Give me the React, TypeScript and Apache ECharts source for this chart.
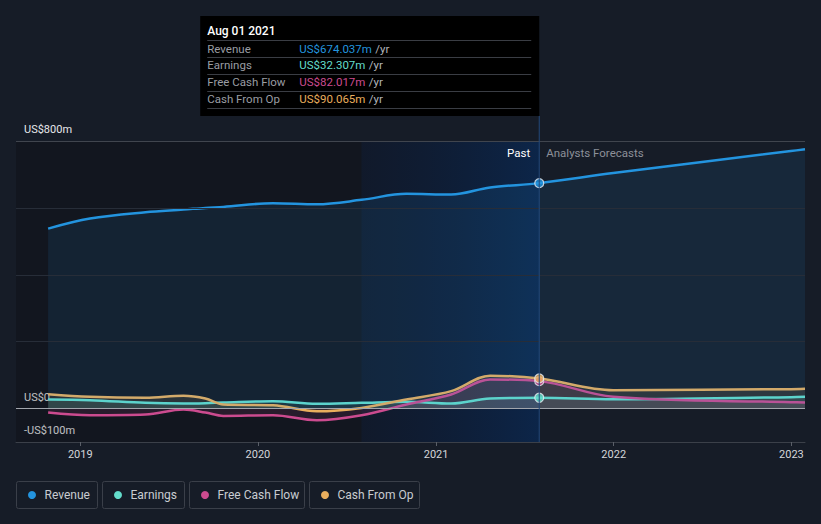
import React, { useEffect, useRef } from 'react';
import * as echarts from 'echarts';

// ---- data ----
const pastDates = ['2018-10-27', '2019-01-21', '2019-05-15', '2019-08-01', '2019-09-15', '2019-10-22', '2020-02-01', '2020-05-01', '2020-08-01', '2020-11-01', '2021-02-01', '2021-04-22', '2021-08-01'];
const forecastDates = ['2021-12-31', '2022-12-31', '2023-01-29'];

const revenuePast = [538, 568, 587, 595, 600, 603, 614, 611, 624, 642, 640, 661, 674.037];
const revenueForecast = [704, 770, 775];
const earningsPast = [27, 25, 17, 15, 16, 18, 22, 14, 17, 20, 15, 30, 32.307];
const earningsForecast = [28, 34, 35];
const fcfPast = [-12, -20, -18, -3, -12, -22, -20, -35, -20, 12, 42, 87, 82.017];
const fcfForecast = [35, 19, 18];
const cfoPast = [43, 35, 32, 38, 30, 12, 10, -8, 2, 27, 52, 98, 90.065];
const cfoForecast = [55, 58, 59];

const seriesNames = ['Revenue', 'Earnings', 'Free Cash Flow', 'Cash From Op'];
const seriesColors = ['#2394df', '#63dccb', '#cc4b8f', '#e9ae5d'];

const yLabels: Record<number, string> = { 800: 'US$800m', 0: 'US$0', [-100]: '-US$100m' };
const gridValues = [800, 600, 400, 200];

const xMin = '2018-08-22';
const xMax = '2023-01-29';
const hoverDate = '2021-08-01';
const pastStart = '2020-08-01';
const hoverLabel = 'Aug 01 2021';

const FONT = 'Roboto';

function build(past: number[], fc: number[]) {
  return [
    ...pastDates.map((d, i) => [d, past[i]]),
    ...forecastDates.map((d, i) => [d, fc[i]]),
  ];
}

export default function App() {
  const ref = useRef<HTMLDivElement>(null);

  useEffect(() => {
    if (!ref.current) return;
    const chart = echarts.init(ref.current, null, { renderer: 'svg' });

    const all = [
      [revenuePast, revenueForecast],
      [earningsPast, earningsForecast],
      [fcfPast, fcfForecast],
      [cfoPast, cfoForecast],
    ];

    const lineSeries: any[] = all.map(([p, f], i) => ({
      type: 'line',
      name: seriesNames[i],
      data: build(p, f),
      smooth: 0.35,
      showSymbol: false,
      symbol: 'none',
      lineStyle: { color: seriesColors[i], width: 2.5 },
      itemStyle: { color: seriesColors[i] },
      areaStyle: { color: seriesColors[i], opacity: i === 0 ? 0.11 : 0.12 },
      z: i === 0 ? 4 : 3,
      silent: true,
    }));

    const dotSeries: any[] = all.map(([p], i) => ({
      type: 'scatter',
      name: seriesNames[i] + ' point',
      data: [[hoverDate, p[p.length - 1]]],
      symbol: 'circle',
      symbolSize: 9,
      itemStyle: { color: seriesColors[i], borderColor: '#e8ecf2', borderWidth: 1.2 },
      z: 6,
      silent: true,
    }));

    const baseSeries: any = {
      type: 'line',
      name: 'base',
      data: [],
      z: 1,
      silent: true,
      markArea: {
        silent: true,
        data: [
          [{ xAxis: xMin, itemStyle: { color: 'rgba(0,0,0,0.18)' } }, { xAxis: pastStart }],
          [
            {
              xAxis: pastStart,
              itemStyle: {
                color: new echarts.graphic.LinearGradient(0, 0, 1, 0, [
                  { offset: 0, color: 'rgba(0,18,54,0.25)' },
                  { offset: 1, color: 'rgba(2,48,110,0.48)' },
                ]),
              },
            },
            { xAxis: hoverDate },
          ],
        ],
      },
      markLine: {
        silent: true,
        symbol: 'none',
        label: { show: false },
        data: [
          ...gridValues.map((v) => ({
            yAxis: v,
            lineStyle: { color: v === 800 ? '#40454e' : '#272d38', width: 1, type: 'solid' },
          })),
        ],
      },
    };

    const zeroSeries: any = {
      type: 'line',
      name: 'zero',
      data: [],
      z: 5,
      silent: true,
      markLine: {
        silent: true,
        symbol: 'none',
        label: { show: false },
        data: [{ yAxis: 0, lineStyle: { color: '#a2a6ad', width: 1.2, type: 'solid' } }],
      },
    };

    chart.setOption({
      animation: false,
      backgroundColor: '#161c27',
      textStyle: { fontFamily: FONT },
      grid: { left: 16, right: 16, top: 141, bottom: 82 },
      xAxis: {
        type: 'time',
        min: xMin,
        max: xMax,
        minInterval: 365 * 86400000,
        maxInterval: 366 * 86400000,
        axisLine: { onZero: false, lineStyle: { color: '#3b4049', width: 1 } },
        axisTick: { show: true, length: 4, lineStyle: { color: '#5a5f68' } },
        splitLine: { show: false },
        minorTick: { show: false },
        axisLabel: {
          color: '#d4d6da',
          fontSize: 11,
          fontFamily: FONT,
          margin: 7,
          formatter: (v: number) => {
            const d = new Date(v);
            return d.getMonth() === 0 && d.getDate() === 1 ? String(d.getFullYear()) : '';
          },
        },
      },
      yAxis: {
        type: 'value',
        min: -100,
        max: 800,
        interval: 100,
        splitLine: { show: false },
        axisLine: { show: false },
        axisTick: { show: false },
        axisLabel: {
          inside: true,
          margin: 8,
          verticalAlign: 'bottom',
          color: '#e6e8eb',
          fontSize: 11,
          fontFamily: FONT,
          padding: [0, 0, 6, 0],
          formatter: (v: number) => yLabels[v] ?? '',
        },
      },
      series: [baseSeries, ...lineSeries, zeroSeries, ...dotSeries],
    });

    // overlay elements positioned through the chart's own scales
    const hoverTs = echarts.number.parseDate(hoverDate).getTime();
    const [px, yTop] = chart.convertToPixel({ gridIndex: 0 }, [hoverTs, 800]) as number[];
    const [, yBottom] = chart.convertToPixel({ gridIndex: 0 }, [hoverTs, -100]) as number[];

    const tipW = 339;
    const tipH = 100;
    const tipTop = 16;
    const tipLeft = px - tipW;

    const rows = all.map(([p], i) => ({
      label: seriesNames[i],
      value: 'US$' + p[p.length - 1].toFixed(3) + 'm',
      color: seriesColors[i],
    }));

    const tipChildren: any[] = [
      { type: 'rect', shape: { x: 0, y: 0, width: tipW, height: tipH }, style: { fill: '#000000' } },
      {
        type: 'text',
        x: 7,
        y: 15,
        style: { text: hoverLabel, fill: '#ffffff', font: `500 12px ${FONT}`, verticalAlign: 'middle' },
      },
    ];
    for (let k = 0; k < 5; k++) {
      const ly = 24.5 + k * 17;
      tipChildren.push({
        type: 'line',
        shape: { x1: 7, y1: ly, x2: 331, y2: ly },
        style: { stroke: '#3a3d44', lineWidth: 1 },
      });
    }
    rows.forEach((r, k) => {
      const cy = 32.6 + k * 16.8;
      tipChildren.push({
        type: 'text',
        x: 7,
        y: cy,
        style: { text: r.label, fill: '#9a9da3', font: `11.5px ${FONT}`, verticalAlign: 'middle' },
      });
      tipChildren.push({
        type: 'text',
        x: 99,
        y: cy,
        style: {
          text: `{v|${r.value}} {u|/yr}`,
          verticalAlign: 'middle',
          rich: {
            v: { fill: r.color, font: `11.5px ${FONT}` },
            u: { fill: '#b4b7bc', font: `11.5px ${FONT}` },
          },
        },
      });
    });

    const legendItems = [
      { x: 16, w: 81 },
      { x: 102, w: 82 },
      { x: 189, w: 115 },
      { x: 309, w: 110 },
    ];
    const legendChildren: any[] = [];
    legendItems.forEach((it, i) => {
      legendChildren.push({
        type: 'rect',
        shape: { x: it.x + 0.5, y: 481.5, width: it.w, height: 27, r: 2 },
        style: { fill: 'transparent', stroke: '#3a3f49', lineWidth: 1 },
      });
      legendChildren.push({
        type: 'circle',
        shape: { cx: it.x + 16, cy: 495, r: 4 },
        style: { fill: seriesColors[i] },
      });
      legendChildren.push({
        type: 'text',
        x: it.x + 28.5,
        y: 495,
        style: { text: seriesNames[i], fill: '#c9ccd1', font: `12px ${FONT}`, verticalAlign: 'middle' },
      });
    });

    chart.setOption({
      graphic: [
        {
          type: 'line',
          shape: { x1: px, y1: tipTop + tipH, x2: px, y2: yBottom },
          style: { stroke: '#22497a', lineWidth: 1 },
          z: 10,
          silent: true,
        },
        {
          type: 'text',
          x: px - 9,
          y: yTop + 12,
          style: { text: 'Past', fill: '#ffffff', font: `11.5px ${FONT}`, align: 'right', verticalAlign: 'middle' },
          z: 10,
        },
        {
          type: 'text',
          x: px + 7,
          y: yTop + 12,
          style: { text: 'Analysts Forecasts', fill: '#8c9099', font: `11.5px ${FONT}`, align: 'left', verticalAlign: 'middle' },
          z: 10,
        },
        { type: 'group', x: tipLeft, y: tipTop, children: tipChildren, z: 20 },
        { type: 'group', children: legendChildren, z: 20 },
      ],
    });

    return () => chart.dispose();
  }, []);

  return <div ref={ref} style={{ position: 'fixed', left: 0, top: 0, width: 821, height: 524 }} />;
}
